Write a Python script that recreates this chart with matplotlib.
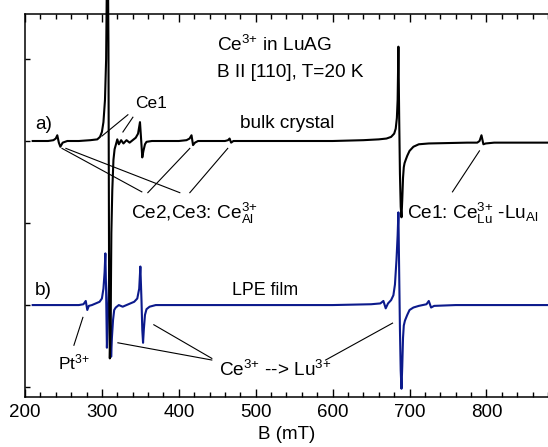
import matplotlib
matplotlib.use("Agg")
import matplotlib.pyplot as plt
from matplotlib.ticker import MultipleLocator, NullFormatter

plt.rcParams["font.family"] = ["Liberation Sans", "DejaVu Sans"]
plt.rcParams["mathtext.fontset"] = "custom"
plt.rcParams["mathtext.rm"] = "Liberation Sans"
plt.rcParams["mathtext.it"] = "Liberation Sans:italic"

# EPR spectra (B in mT, signal in arb. units)
bulk_B = [210, 230, 237, 240, 242, 244, 246, 249, 255, 270, 285, 294, 297.5, 300,
          302, 304, 305.5, 306.5, 307.5, 308.5, 309.3, 310.3, 311.3, 312.3, 313.5,
          315, 316.5, 318, 320, 322, 325, 328, 332, 336, 340, 344, 347, 349.5, 351,
          352.5, 354, 356, 358, 365, 380, 400, 410, 414, 416.5, 418.5, 421, 425,
          440, 460, 464, 466, 468, 471, 490, 550, 600, 640, 660, 670, 676, 680, 682,
          683.5, 684.5, 685.5, 686.5, 687.5, 688.5, 689.5, 690.5, 691.5, 692.5,
          693.5, 695, 697, 700, 705, 712, 725, 750, 775, 788, 791, 793.5, 796, 799,
          810, 830, 850, 880]
bulk_val = [0, 0, 0.01, 0.03, 0.07, -0.02, -0.07, -0.02, 0, 0, 0.01, 0.02, 0.05,
            0.11, 0.23, 0.5, 1.0, 2.0, 2.6, 1.2, -1.5, -2.65, -2.3, -1.12, -0.6,
            -0.23, -0.1, -0.05, 0.02, -0.04, 0.01, -0.03, 0.01, -0.02, 0.01, 0.04,
            0.09, 0.23, 0.02, -0.2, -0.12, -0.04, -0.01, 0, 0, 0, 0.01, 0.03, 0.07,
            -0.05, -0.02, 0, 0, 0, 0.01, 0.03, -0.02, 0, 0, 0, 0, 0.01, 0.02, 0.03,
            0.05, 0.09, 0.15, 0.28, 0.5, 1.15, 0.3, -0.4, -0.8, -0.93, -0.72, -0.45,
            -0.32, -0.27, -0.23, -0.18, -0.12, -0.07, -0.04, -0.03, -0.025, -0.02,
            -0.02, 0.0, 0.07, -0.04, -0.03, -0.02, -0.02, -0.02, -0.02]

film_B = [210, 250, 270, 276, 279, 281, 283, 287, 292, 297, 300, 302, 303.5, 304.5,
          305.5, 306.5, 307.3, 308.5, 309.5, 310.3, 311.1, 312, 313, 314.5, 316,
          318, 322, 327, 332, 337, 342, 346, 348.5, 350, 351.5, 352.5, 353.5, 354.5,
          356, 358, 362, 370, 400, 500, 600, 650, 662, 666, 669, 672, 676, 679, 681,
          683, 684.5, 685.5, 686.5, 687.5, 688.5, 689.5, 690.5, 691.5, 692.5, 694,
          697, 700, 705, 712, 722, 725, 728, 732, 760, 800, 850, 880]
film_val = [0, 0, 0, 0.01, 0.05, -0.06, -0.01, 0, 0.02, 0.04, 0.08, 0.2, 0.4, 0.63,
            0.15, -0.52, -0.3, 0.05, 0.4, 0.5, -0.2, -0.63, -0.4, -0.18, -0.06,
            -0.03, 0.0, -0.02, 0.0, 0.02, 0.04, 0.08, 0.2, 0.47, 0.05, -0.3, -0.46,
            -0.3, -0.12, -0.05, -0.02, 0, 0, 0, 0, 0.01, 0.02, 0.05, -0.04, 0.02,
            0.06, 0.12, 0.25, 0.55, 0.85, 1.13, 0.4, -0.3, -0.8, -1.02, -0.75, -0.4,
            -0.25, -0.19, -0.12, -0.06, -0.03, -0.01, 0.01, 0.05, -0.03, -0.01, 0, 0,
            0, 0]

bulk_offset = 2.0
film_offset = 0.0

fig = plt.figure(figsize=(5.48, 4.47), dpi=100)
ax = fig.add_axes([0.0456, 0.112, 0.9544, 0.857])

ax.plot(film_B, [v + film_offset for v in film_val], color="#0c1a8c", lw=1.5)
ax.plot(bulk_B, [v + bulk_offset for v in bulk_val], color="black", lw=1.5,
        clip_on=False)

ax.set_xlim(200, 880)
ax.set_ylim(-1.12, 3.55)
ax.xaxis.set_major_locator(MultipleLocator(100))
ax.xaxis.set_minor_locator(MultipleLocator(20))
ax.yaxis.set_major_locator(MultipleLocator(1))
ax.yaxis.set_major_formatter(NullFormatter())
ax.tick_params(axis="x", which="major", direction="in", length=6, width=1,
               top=True, labelsize=13.5, pad=5)
ax.tick_params(axis="x", which="minor", direction="in", length=3.5, width=1,
               top=True)
ax.tick_params(axis="y", direction="in", length=3.5, width=1, right=False)
for side in ["left", "bottom", "top"]:
    ax.spines[side].set_linewidth(1.1)
ax.spines["right"].set_visible(False)
ax.set_xlabel("B (mT)", fontsize=13.5, labelpad=4)

fs = 13.7
sup = r"^{\text{3+}}"
ax.text(450, 3.17, "Ce$" + sup + "$ in LuAG", fontsize=fs, va="center")
ax.text(450, 2.84, "B II [110], T=20 K", fontsize=fs, va="center")
ax.text(213, 2.2, "a)", fontsize=fs, va="center")
ax.text(343, 2.46, "Ce1", fontsize=12.5, va="center")
ax.text(479, 2.21, "bulk crystal", fontsize=fs, va="center")
ax.text(338, 1.12, "Ce2,Ce3: Ce$" + sup + r"_{\mathrm{Al}}$", fontsize=fs,
        va="center")
ax.text(697, 1.12, "Ce1: Ce$" + sup + r"_{\mathrm{Lu}}$ -Lu$_{\mathrm{Al}}$",
        fontsize=fs, va="center")
ax.text(213, 0.18, "b)", fontsize=fs, va="center")
ax.text(469, 0.18, "LPE film", fontsize=12.8, va="center")
ax.text(243, -0.7, "Pt$" + sup + "$", fontsize=12.5, va="center")
ax.text(452, -0.79, "Ce$" + sup + "$ --> Lu$" + sup + "$", fontsize=fs,
        va="center")

# pointer lines
pointers = [
    ((333.8, 2.32), (300, 2.06)),
    ((340.3, 2.29), (327.3, 2.11)),
    ((248.1, 1.91), (351.9, 1.38)),
    ((253.2, 1.91), (401.3, 1.37)),
    ((414.3, 1.91), (359.7, 1.37)),
    ((463.6, 1.91), (414.3, 1.37)),
    ((790.9, 1.88), (755.8, 1.38)),
    ((275.3, -0.15), (263.6, -0.49)),
    ((320.8, -0.46), (442.9, -0.67)),
    ((367.5, -0.24), (442.9, -0.65)),
    ((590.9, -0.67), (677.9, -0.22)),
]
for (x0, y0), (x1, y1) in pointers:
    ax.plot([x0, x1], [y0, y1], color="black", lw=0.8)

fig.savefig("out.png", dpi=100)
